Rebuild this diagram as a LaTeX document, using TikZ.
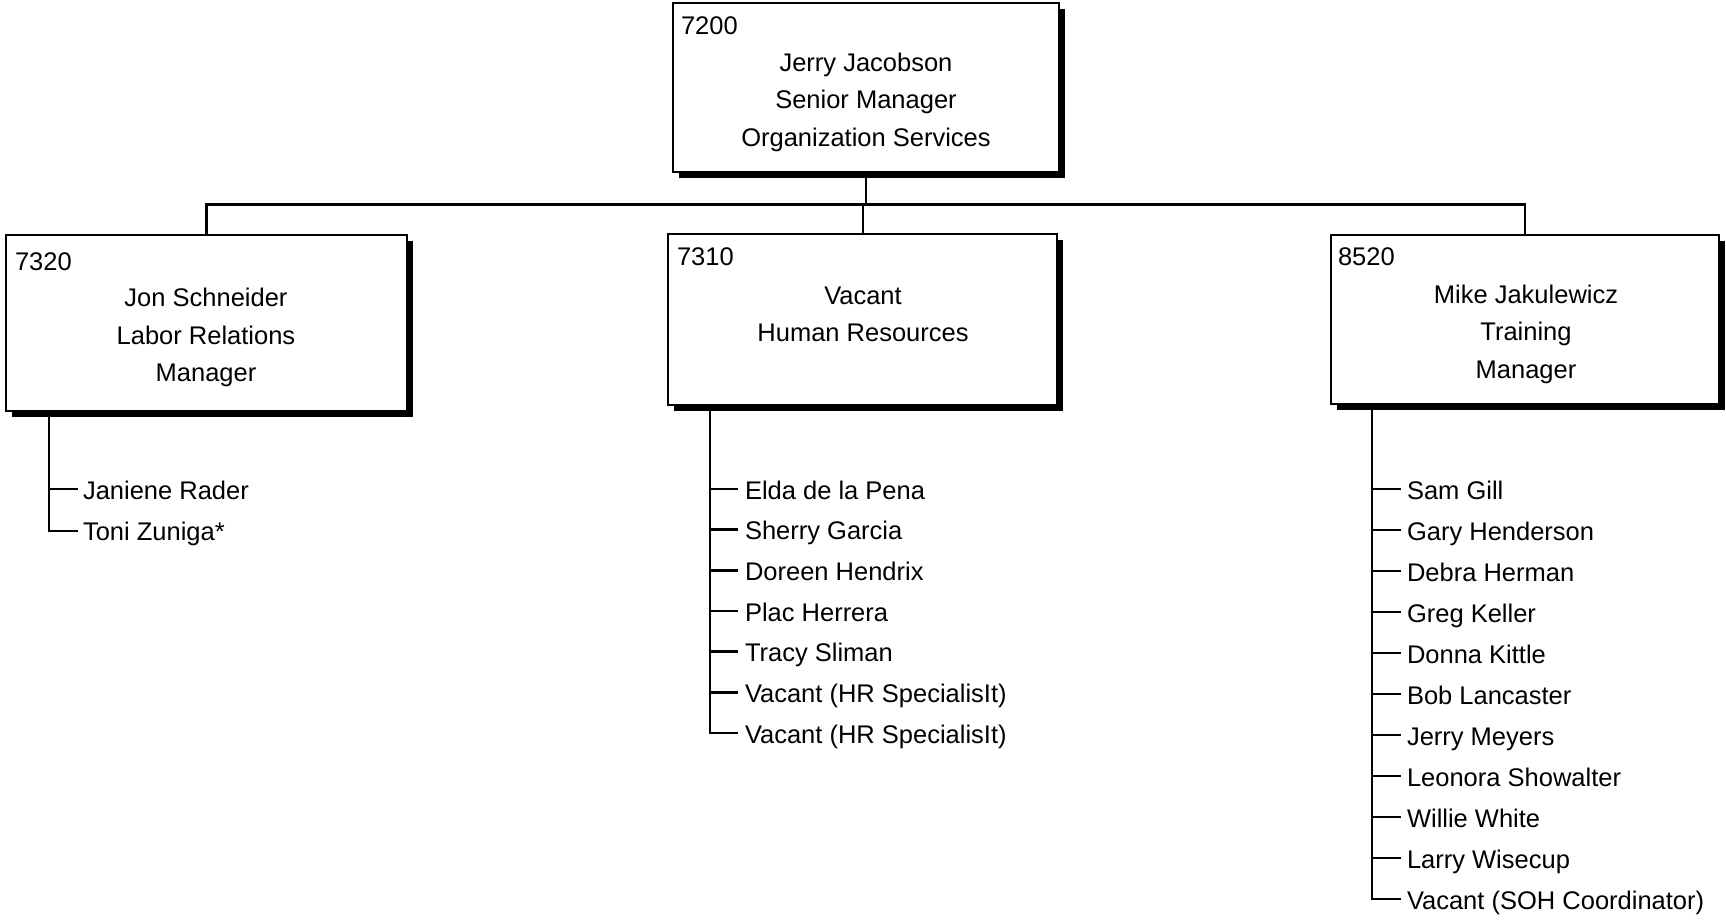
\documentclass[tikz,border=0pt]{standalone}
\usepackage{fontspec}
\setmainfont{Liberation Sans}
\usetikzlibrary{shadows}
\begin{document}
\begin{tikzpicture}[x=1pt,y=-1pt,
  every node/.style={inner sep=0pt,outer sep=0pt},
  orgbox/.style={draw=black,line width=2.3pt,fill=white,rectangle,
    drop shadow={shadow xshift=6pt,shadow yshift=-6pt,fill=black,opacity=1}},
  txt/.style={font=\fontsize{25.5}{30}\selectfont,anchor=base},
  code/.style={font=\fontsize{25.5}{30}\selectfont,anchor=base west},
  item/.style={font=\fontsize{25.5}{30}\selectfont,anchor=west,text height=25pt,text depth=5pt},
  conn/.style={line width=2.4pt,line cap=rect}]
\useasboundingbox (0,0) rectangle (1726,919);
\fill[white] (0,0) rectangle (1726,919);
% boxes
\node[orgbox,minimum width=386pt,minimum height=169pt] (b0) at (866,87.2) {};
\node[orgbox,minimum width=401pt,minimum height=176pt] (b1) at (206.5,322.9) {};
\node[orgbox,minimum width=389pt,minimum height=171pt] (b2) at (862.8,319.7) {};
\node[orgbox,minimum width=388pt,minimum height=169pt] (b3) at (1525,319.5) {};
% box texts
\node[code] (c0) at (681,34) {7200};
\node[txt] (n0a) at (866,71) {Jerry Jacobson};
\node[txt] (n0b) at (866,108.5) {Senior Manager};
\node[txt] (n0c) at (866,146) {Organization Services};
\node[code] (c1) at (15,270) {7320};
\node[txt] (n1a) at (206,306.5) {Jon Schneider};
\node[txt] (n1b) at (206,344) {Labor Relations};
\node[txt] (n1c) at (206,381.5) {Manager};
\node[code] (c2) at (677,265.7) {7310};
\node[txt] (n2a) at (863,304) {Vacant};
\node[txt] (n2b) at (863,341.5) {Human Resources};
\node[code] (c3) at (1338,265.7) {8520};
\node[txt] (n3a) at (1526,303) {Mike Jakulewicz};
\node[txt] (n3b) at (1526,340.5) {Training};
\node[txt] (n3c) at (1526,378) {Manager};
% top connectors
\coordinate (bar) at (0,204.3);
\draw[conn] (b0.south) -- (b0.south |- bar);
\draw[conn] (b1.north) -- (b1.north |- bar) -- (b3.north |- bar) -- (b3.north);
\draw[conn] (b2.north) -- (b2.north |- bar);
% list 1
\coordinate (s1) at (b1.south -| 49,0);
\node[item] (l0) at (83,489) {Janiene Rader};
\node[item] (l1) at (83,530.7) {Toni Zuniga*};
\draw[conn] ([xshift=-6pt]l0.west) -- (l0.west -| s1);
\draw[conn] (s1) |- ([xshift=-6pt]l1.west);
% list 2
\coordinate (s2) at (b2.south -| 710,0);
\foreach [count=\i from 0] \t in {Elda de la Pena,Sherry Garcia,Doreen Hendrix,Plac Herrera,Tracy Sliman,{Vacant (HR SpecialisIt)},{Vacant (HR SpecialisIt)}}
  \node[item] (m\i) at (745,{489+40.67*\i}) {\t};
\foreach \i in {0,...,5}
  \draw[conn] ([xshift=-8pt]m\i.west) -- (m\i.west -| s2);
\draw[conn] (s2) |- ([xshift=-8pt]m6.west);
% list 3
\coordinate (s3) at (b3.south -| 1372,0);
\foreach [count=\i from 0] \t in {Sam Gill,Gary Henderson,Debra Herman,Greg Keller,Donna Kittle,Bob Lancaster,Jerry Meyers,Leonora Showalter,Willie White,Larry Wisecup,{Vacant (SOH Coordinator)}}
  \node[item] (r\i) at (1407,{489+41*\i}) {\t};
\foreach \i in {0,...,9}
  \draw[conn] ([xshift=-7pt]r\i.west) -- (r\i.west -| s3);
\draw[conn] (s3) |- ([xshift=-7pt]r10.west);
\end{tikzpicture}
\end{document}
